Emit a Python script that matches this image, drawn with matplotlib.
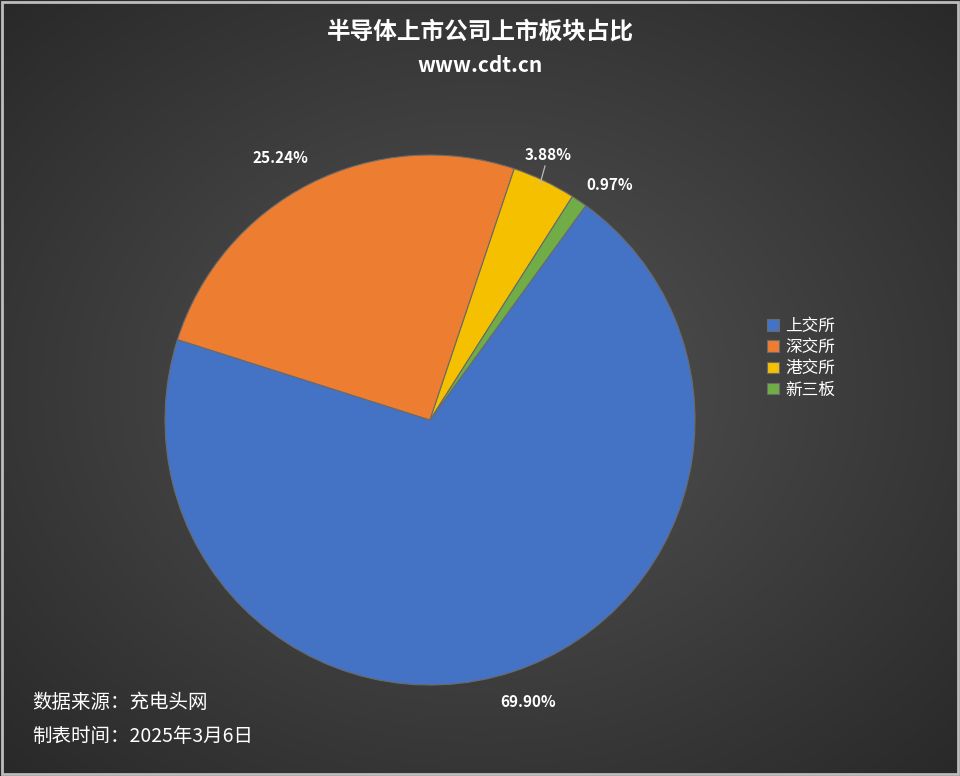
import numpy as np
from matplotlib import pyplot as plt
from matplotlib.lines import Line2D

plt.rcParams["font.family"] = ["Noto Sans CJK SC", "DejaVu Sans"]

labels = ["上交所", "深交所", "港交所", "新三板"]
shares = [69.90, 25.24, 3.88, 0.97]
colors = ["#4472c4", "#ed7d31", "#f5c000", "#70ad47"]

fig = plt.figure(figsize=(9.6, 7.76), dpi=100)

# radial dark background
bg = fig.add_axes([0, 0, 1, 1])
yy, xx = np.mgrid[-1:1:400j, -1:1:400j]
r = np.clip(np.sqrt(xx ** 2 + yy ** 2) / 1.41, 0, 1)
shade = 0.33 - 0.17 * r
img = np.dstack([shade, shade, shade])
bg.imshow(img, extent=[0, 1, 0, 1], aspect="auto")
bg.add_patch(plt.Rectangle((0.002, 0.003), 0.996, 0.994, fill=False, ec="#bdbdbd", lw=2))
bg.set_xlim(0, 1)
bg.set_ylim(0, 1)
bg.axis("off")

ax = fig.add_axes([165 / 960, 1 - 685 / 776, 530 / 960, 530 / 776])
wedges, _ = ax.pie(shares, colors=colors, startangle=54, counterclock=False,
                   wedgeprops=dict(edgecolor="#6a6a6a", linewidth=0.8))
ax.set_xlim(-1, 1)
ax.set_ylim(-1, 1)

tk = dict(color="white", fontsize=11, fontweight="bold", ha="center", va="center")
fig.text(280 / 960, 1 - 158 / 776, f"{shares[1]:.2f}%", **tk)
fig.text(548 / 960, 1 - 155 / 776, f"{shares[2]:.2f}%", **tk)
fig.text(610 / 960, 1 - 185 / 776, f"{shares[3]:.2f}%", **tk)
fig.text(528 / 960, 1 - 702 / 776, f"{shares[0]:.2f}%", **tk)
fig.add_artist(Line2D([545 / 960, 540 / 960], [1 - 166 / 776, 1 - 184 / 776],
                      color="#bbbbbb", lw=0.9))

leg = fig.legend(wedges, labels, loc="upper left", bbox_to_anchor=(752 / 960, 1 - 303 / 776),
                 frameon=False, fontsize=12, labelcolor="white", handlelength=0.7,
                 handleheight=0.7, handletextpad=0.4, labelspacing=0.25)

fig.text(0.5, 1 - 32 / 776, "半导体上市公司上市板块占比", color="white", fontsize=17,
         fontweight="bold", ha="center", va="center")
fig.text(0.5, 1 - 66 / 776, "www.cdt.cn", color="white", fontsize=15,
         fontweight="bold", ha="center", va="center")
fig.text(32 / 960, 1 - 703 / 776, "数据来源：充电头网", color="white", fontsize=14, va="center")
fig.text(32 / 960, 1 - 736 / 776, "制表时间：2025年3月6日", color="white", fontsize=14, va="center")

fig.savefig("out.png", dpi=100)
